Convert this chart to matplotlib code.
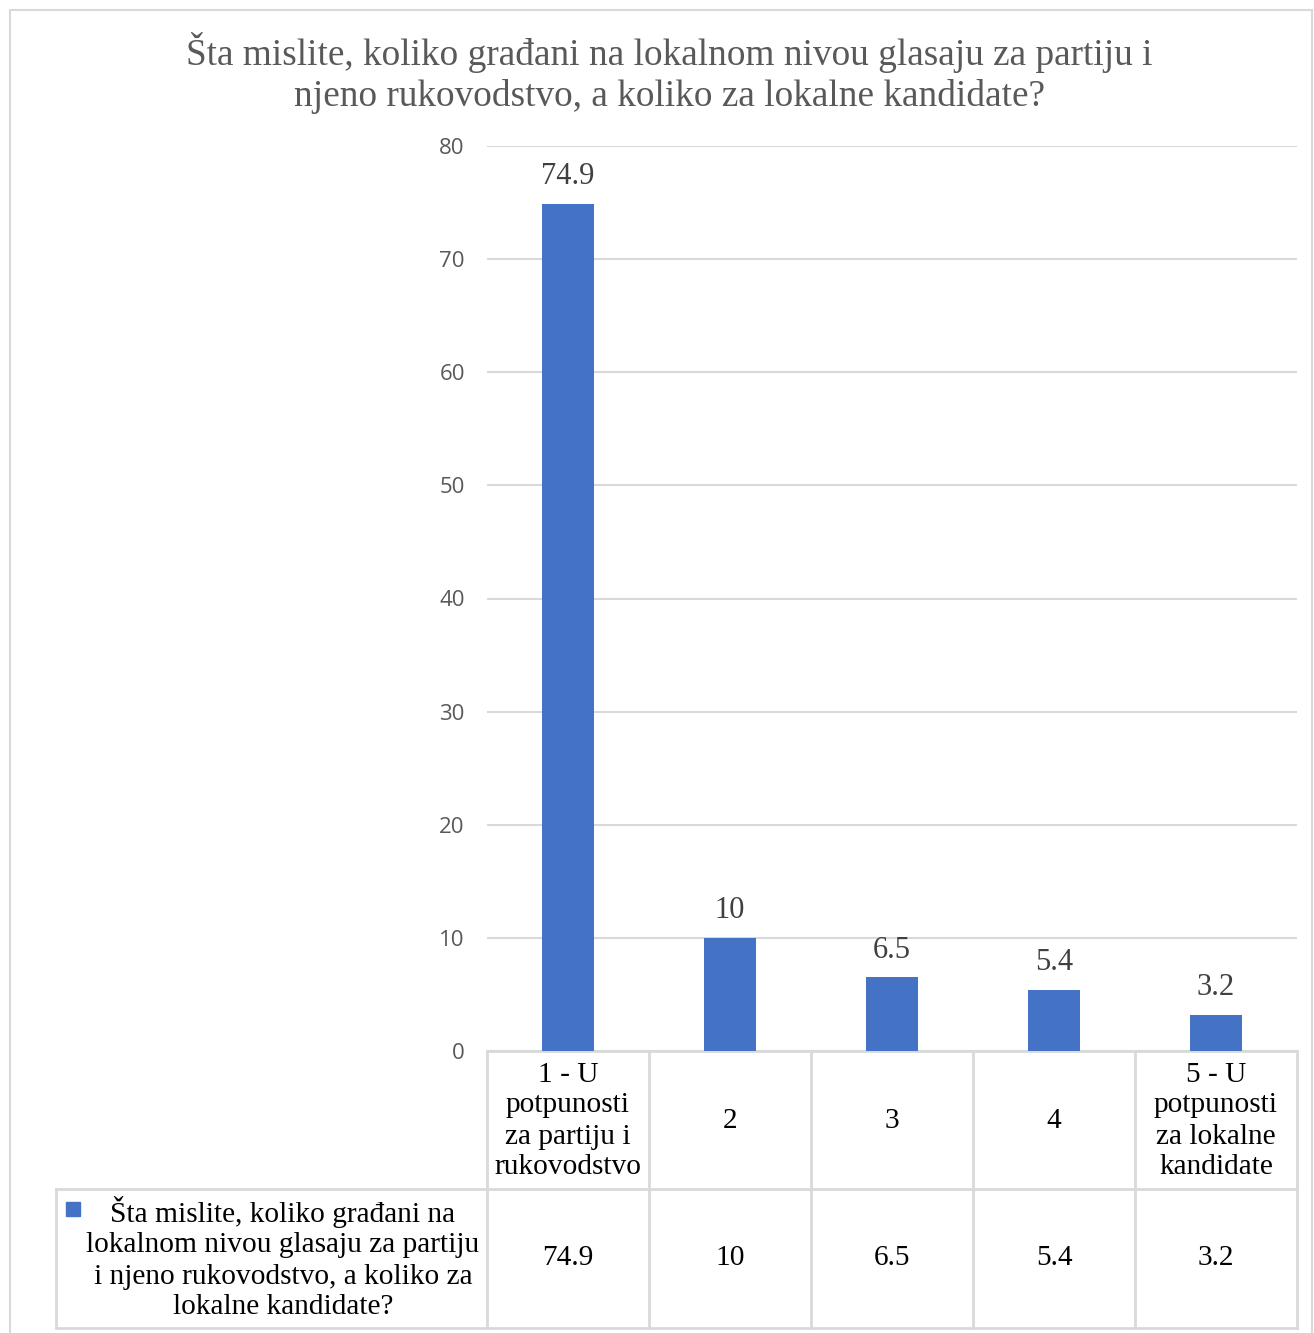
import matplotlib.pyplot as plt
from matplotlib.patches import Rectangle
from matplotlib.transforms import blended_transform_factory

# data
categories = ['1 - U\npotpunosti\nza partiju i\nrukovodstvo', '2', '3', '4',
              '5 - U\npotpunosti\nza lokalne\nkandidate']
values = [74.9, 10, 6.5, 5.4, 3.2]
value_labels = ['74.9', '10', '6.5', '5.4', '3.2']
series_name = ('Šta mislite, koliko građani na\nlokalnom nivou glasaju za partiju\n'
               'i njeno rukovodstvo, a koliko za\nlokalne kandidate?')
title = ('Šta mislite, koliko građani na lokalnom nivou glasaju za partiju i\n'
         'njeno rukovodstvo, a koliko za lokalne kandidate?')
yticks = [0, 10, 20, 30, 40, 50, 60, 70, 80]

W, H = 1314, 1333
BLUE = '#4472C4'
GRID = '#d9d9d9'
SERIF = 'Liberation Serif'


def fx(px):
    return px / W


def fy(py):
    return 1 - py / H


fig = plt.figure(figsize=(W / 100, H / 100), dpi=100, facecolor='white')

# chart border
fig.patches.append(Rectangle((fx(10), fy(1340)), fx(1302), (1330) / H,
                             transform=fig.transFigure, fill=False,
                             edgecolor=GRID, lw=1.5))

ax = fig.add_axes([fx(487), fy(1051), fx(810), 905 / H])
x = list(range(len(values)))
ax.bar(x, values, width=0.315, color=BLUE, zorder=3)
ax.set_xlim(-0.5, len(values) - 0.5)
ax.set_ylim(0, 80)
ax.set_yticks(yticks)
ax.yaxis.grid(True, color=GRID, lw=1.5, zorder=0)
ax.set_xticks([])
for s in ax.spines.values():
    s.set_visible(False)
ax.tick_params(axis='y', length=0, pad=16, labelsize=16, labelcolor='#595959')
for lbl in ax.get_yticklabels():
    lbl.set_family('Open Sans')

for xi, v, t in zip(x, values, value_labels):
    ax.annotate(t, (xi, v), xytext=(0, 9), textcoords='offset points',
                ha='center', va='bottom', fontsize=22, family=SERIF,
                color='#404040')

fig.text(fx(669), fy(73), title, ha='center', va='center', fontsize=26.8,
         family=SERIF, color='#595959', linespacing=1.24)

# data table
bt = blended_transform_factory(ax.transData, fig.transFigure)
edges = [i - 0.5 for i in range(len(values) + 1)]
for e in edges:
    ax.plot([e, e], [fy(1051), fy(1328)], transform=bt, color=GRID, lw=2,
            clip_on=False)
ax.plot([edges[0], edges[-1]], [fy(1051), fy(1051)], transform=bt, color=GRID,
        lw=2, clip_on=False)
for yy in (1189, 1328):
    fig.add_artist(plt.Line2D([fx(56), fx(1297)], [fy(yy), fy(yy)],
                              color=GRID, lw=2))
fig.add_artist(plt.Line2D([fx(56), fx(56)], [fy(1189), fy(1328)],
                          color=GRID, lw=2))

for xi, c, t in zip(x, categories, value_labels):
    ax.text(xi, fy(1121), c, transform=bt, ha='center', va='center',
            fontsize=21.2, family=SERIF, color='black', linespacing=1.25)
    ax.text(xi, fy(1258), t, transform=bt, ha='center', va='center',
            fontsize=21.2, family=SERIF, color='black')

fig.patches.append(Rectangle((fx(66), fy(1216)), fx(14), 14 / H,
                             transform=fig.transFigure, color=BLUE))
fig.text(fx(283), fy(1258), series_name, ha='center', va='center',
         fontsize=21.2, family=SERIF, color='black', linespacing=1.25)

fig.savefig('out.png', dpi=100, facecolor='white')
